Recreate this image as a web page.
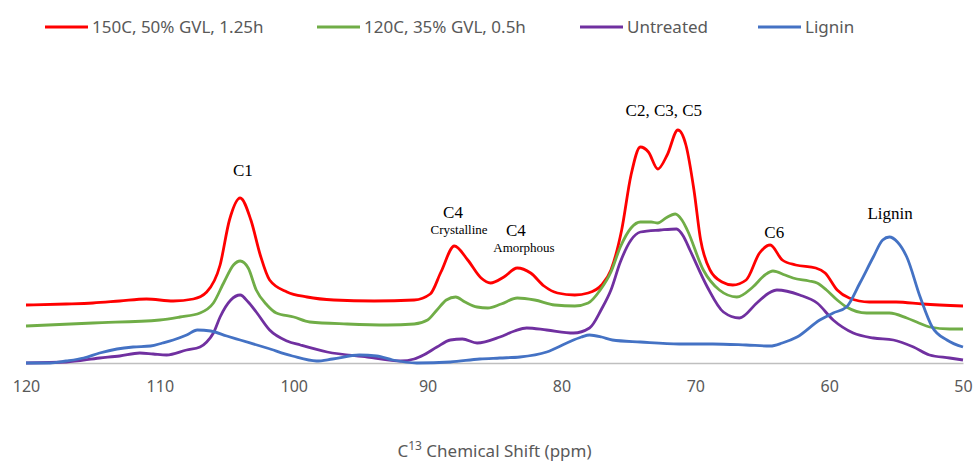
<!DOCTYPE html>
<html>
<head>
<meta charset="utf-8">
<script src="https://cdn.jsdelivr.net/npm/d3@7"></script>
<style>
  body { margin: 0; background: #fff; }
</style>
</head>
<body>
<div id="chart"></div>
<script>
// spectra: [ppm, intensity]
const red150 = [
  [120, 58], [117, 59], [115, 60], [113, 62], [111, 64], [109, 62], [107.5, 64], [106.5, 71],
  [105.5, 98], [104.8, 143], [104, 165], [103.2, 143], [102.5, 108], [101.8, 83], [100.5, 71],
  [99, 66], [97, 63], [94, 62], [91, 63], [89.8, 69], [89, 91], [88, 117], [87, 103], [86, 85],
  [85.3, 80], [84.3, 86], [83.3, 95], [82.3, 90], [81.3, 77], [80.3, 70], [79, 68], [78, 70],
  [77, 78], [76.3, 93], [75.5, 133], [74.8, 188], [74.1, 216], [73.5, 211], [72.8, 194],
  [72.1, 208], [71.3, 233], [70.7, 218], [70.1, 173], [69.6, 123], [68.9, 93], [68, 81],
  [67.2, 78], [66.2, 83], [65.2, 110], [64.4, 118], [63.5, 103], [62.5, 98], [61, 95],
  [60.3, 90], [59.4, 73], [58.5, 65], [57, 61], [55, 61], [53, 59], [50, 57]
];
const green120 = [
  [120, 37], [115, 40], [110, 43], [108.5, 46], [107, 50], [106, 60], [105.2, 81], [104.5, 98],
  [104, 102], [103.4, 95], [102.8, 73], [102, 58], [101.3, 50], [100, 46], [98.8, 41], [96, 39],
  [93, 38], [91, 39], [90, 43], [89.3, 53], [88.6, 63], [87.9, 66], [87.2, 61], [86.3, 56],
  [85.5, 55], [84.5, 59], [83.3, 65], [82, 63], [80.5, 58], [79, 57], [78, 60], [77.1, 73],
  [76.3, 91], [75.6, 116], [74.8, 135], [74.1, 141], [73.3, 141], [72.8, 140], [72.2, 145],
  [71.5, 149], [71, 143], [70.6, 133], [69.4, 93], [68.2, 73], [66.9, 66], [65.7, 76],
  [64.8, 88], [64.2, 92], [63.3, 88], [62.7, 85], [61.5, 82], [60.9, 80], [60.2, 73],
  [59.4, 63], [58.7, 56], [57.2, 50], [55.5, 50], [54.2, 45], [53.3, 40], [52.5, 36],
  [51, 34], [50, 34]
];
const untreated = [
  [120, 0], [117, 1], [114.5, 5], [113, 7], [111.5, 10], [110.5, 9], [109.5, 8], [108, 13],
  [107, 16], [106.5, 21], [106, 30], [105.5, 46], [104.7, 63], [104, 68], [103.4, 61],
  [102.8, 51], [101.8, 33], [100.5, 22], [99.5, 18], [97.5, 11], [94.5, 6], [92, 2], [91, 4],
  [90.3, 8], [89.3, 16], [88.3, 23], [87.4, 24], [86.3, 20], [84.6, 26], [83.5, 32],
  [82.6, 35], [81.1, 33], [79.1, 30], [77.9, 35], [77, 54], [76.3, 73], [75.6, 101],
  [74.8, 123], [74.1, 131], [72.6, 133], [71.4, 134], [70.9, 127], [70.4, 113], [69.1, 76],
  [67.9, 51], [66.7, 45], [65.4, 60], [64.5, 70], [63.9, 73], [62.2, 68], [60.9, 60],
  [59.7, 43], [58.2, 30], [56.7, 25], [55.2, 23], [53.7, 16], [52.5, 8], [51, 5], [50, 3]
];
const lignin = [
  [120, 0], [118.2, 0], [117, 2], [115.7, 5], [114.5, 10], [113.2, 14], [112, 16], [110.7, 17],
  [109.8, 20], [109, 23], [108, 28], [107.2, 33], [106.2, 32], [105, 27], [104, 23], [102, 15],
  [100.1, 7], [98.3, 2], [97.1, 4], [95.1, 8], [93.8, 7], [92.6, 3], [90.8, 0], [88.3, 1],
  [86.1, 4], [84.6, 5], [83.1, 6], [81.1, 11], [79.6, 20], [78.5, 26], [77.9, 28], [77, 26],
  [76.2, 23], [74.1, 21], [71.2, 19], [68.7, 19], [66.2, 18], [64.4, 17], [63.5, 20],
  [62.4, 26], [60.7, 43], [59.7, 50], [58.7, 56], [57.7, 80], [56.7, 106], [56, 123],
  [55.5, 126], [54.9, 121], [54.2, 106], [53.2, 66], [52.3, 36], [51.2, 23], [50, 16]
];

const seriesNames = ['150C, 50% GVL, 1.25h', '120C, 35% GVL, 0.5h', 'Untreated', 'Lignin'];
const seriesData = [red150, green120, untreated, lignin];
const seriesColors = ['#ff0000', '#70ad47', '#7030a0', '#4472c4'];

const xTicks = [120, 110, 100, 90, 80, 70, 60, 50];

// peak labels: [text, ppm, intensity, size]
const peakLabels = [
  ['C1', 103.8, 187, 'big'],
  ['C4', 88.1, 145, 'big'],
  ['Crystalline', 87.65, 129, 'small'],
  ['C4', 83.4, 127, 'big'],
  ['Amorphous', 82.8, 111, 'small'],
  ['C2, C3, C5', 72.35, 247, 'big'],
  ['C6', 64.1, 125, 'big'],
  ['Lignin', 55.45, 144, 'big']
];

const width = 975;
const height = 469;
const margin = { top: 123, right: 12, bottom: 106, left: 26 };
const textGray = '#595959';

const svg = d3
  .select('#chart')
  .append('svg')
  .attr('width', width)
  .attr('height', height);

const xScale = d3
  .scaleLinear()
  .domain([120, 50])
  .range([margin.left, width - margin.right]);

const yScale = d3
  .scaleLinear()
  .domain([0, 240])
  .range([height - margin.bottom, margin.top]);

// x axis, no tick marks, light grey baseline
const xAxis = d3
  .axisBottom(xScale)
  .tickValues(xTicks)
  .tickSize(0)
  .tickPadding(18)
  .tickFormat(d3.format('d'));

const axisG = svg
  .append('g')
  .attr('transform', `translate(0,${yScale(0)})`)
  .call(xAxis);

axisG.select('.domain').attr('stroke', '#bfbfbf').attr('stroke-width', 1.5);
axisG
  .selectAll('text')
  .attr('fill', textGray)
  .attr('font-family', 'Noto Sans')
  .attr('font-size', 16);

// spectra
const line = d3
  .line()
  .x((d) => xScale(d[0]))
  .y((d) => yScale(d[1]))
  .curve(d3.curveMonotoneX);

svg
  .selectAll('path.spectrum')
  .data(seriesData)
  .join('path')
  .attr('class', 'spectrum')
  .attr('fill', 'none')
  .attr('stroke', (d, i) => seriesColors[i])
  .attr('stroke-width', 2.8)
  .attr('stroke-linejoin', 'round')
  .attr('d', line);

// peak annotations
svg
  .selectAll('text.peak')
  .data(peakLabels)
  .join('text')
  .attr('class', 'peak')
  .attr('font-family', 'Liberation Serif')
  .attr('font-size', (d) => (d[3] === 'big' ? 17 : 13))
  .attr('fill', '#000')
  .attr('text-anchor', 'middle')
  .attr('x', (d) => xScale(d[1]))
  .attr('y', (d) => yScale(d[2]))
  .text((d) => d[0]);

// legend
const legendX = [45, 317, 580, 758];
const legend = svg
  .selectAll('g.legendItem')
  .data(seriesNames)
  .join('g')
  .attr('class', 'legendItem')
  .attr('transform', (d, i) => `translate(${legendX[i]},27)`);

legend
  .append('line')
  .attr('x1', 0)
  .attr('x2', 43)
  .attr('stroke', (d, i) => seriesColors[i])
  .attr('stroke-width', 2.8);

legend
  .append('text')
  .attr('x', 47)
  .attr('y', 6)
  .attr('fill', textGray)
  .attr('font-family', 'Noto Sans')
  .attr('font-size', 17)
  .text((d) => d);

// axis title with superscript
const title = svg
  .append('text')
  .attr('x', (xScale(120) + xScale(50)) / 2)
  .attr('y', 457)
  .attr('text-anchor', 'middle')
  .attr('fill', textGray)
  .attr('font-family', 'Noto Sans')
  .attr('font-size', 17);
title.append('tspan').text('C');
title.append('tspan').attr('dy', -7).attr('font-size', 12).text('13');
title.append('tspan').attr('dy', 7).text(' Chemical Shift (ppm)');
</script>
</body>
</html>
